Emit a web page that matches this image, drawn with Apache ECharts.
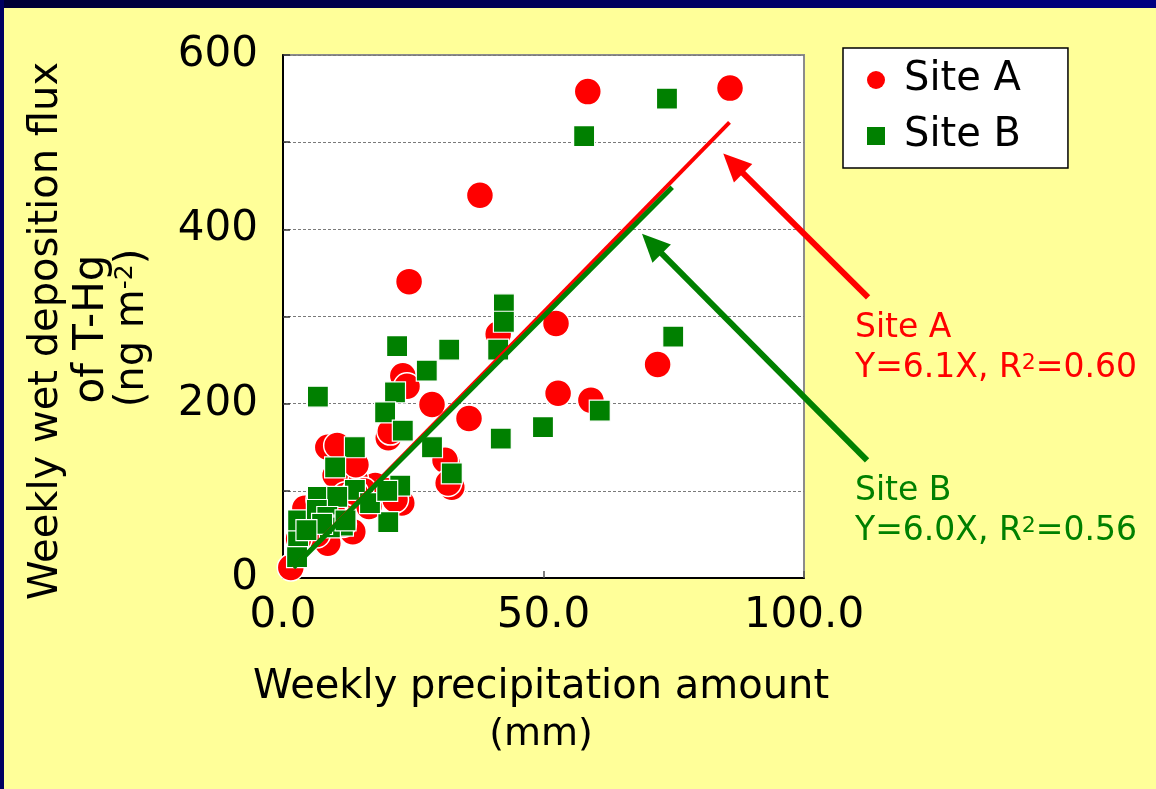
<!DOCTYPE html>
<html><head><meta charset="utf-8">
<script src="https://cdn.jsdelivr.net/npm/echarts@6/dist/echarts.min.js"></script>
<style>html,body{margin:0;padding:0;background:#FFFF99;overflow:hidden}#c{width:1156px;height:789px}</style>
</head><body><div id="c"></div>
<script>
// ---- data ----
const siteA_x = [1.5, 58.5, 85.8, 37.8, 24.2, 52.4, 41.3, 52.8, 59.1, 71.9, 28.6, 35.7, 23.0, 23.8, 20.2, 20.6, 8.6, 10.4, 32.4, 31.5, 31.1, 31.7, 22.8, 17.7, 13.8, 13.4, 8.6, 5.6, 4.2, 5.8, 10.0, 12.0, 6.5, 3.0, 15.5, 9.5, 11.5, 20.0, 7.0, 14.0, 21.5, 13.8, 16.5];
const siteA_y = [12, 558, 562, 439, 340, 292, 280, 212, 204, 245, 199, 183, 232, 220, 161, 168, 150, 152, 104, 132, 135, 109, 86, 106, 114, 53, 40, 70, 80, 52, 118, 95, 50, 45, 100, 75, 62, 100, 90, 130, 90, 98, 82];
const siteB_x = [6.7, 73.7, 57.8, 74.9, 60.8, 49.9, 41.8, 42.4, 42.4, 41.3, 31.9, 27.6, 21.9, 21.5, 19.6, 23.0, 28.6, 32.4, 13.8, 10.0, 13.8, 22.5, 20.2, 6.7, 10.4, 10.0, 2.9, 2.9, 2.7, 16.7, 6.5, 8.5, 11.5, 20.0, 9.0, 12.0, 7.5, 4.5];
const siteB_y = [208, 550, 507, 277, 192, 173, 160, 314, 294, 262, 262, 238, 266, 213, 190, 169, 150, 120, 150, 127, 101, 106, 64, 93, 93, 63, 43, 66, 24, 86, 78, 70, 60, 100, 58, 66, 62, 55];
const fitA_slope = 6.1, fitA_xRange = [2.0, 85.7];
const fitB_slope = 6.0, fitB_xRange = [2.0, 74.7];
const xTicks = [0, 50, 100];
const yTicks = [0, 200, 400, 600];
const seriesNames = ['Site A', 'Site B'];
const annotA = ['Site A', 'Y=6.1X, R{sup|2}=0.60'];
const annotB = ['Site B', 'Y=6.0X, R{sup|2}=0.56'];
// arrows in data coordinates: [tail, tip]
const arrowA = [[112.3, 322], [84.5, 487]];
const arrowB = [[112.1, 135], [68.9, 395]];

const FONT = 'DejaVu Sans';
const RED = '#FF0000', GREEN = '#008000';
const zip = (xs, ys) => xs.map((x, i) => [x, ys[i]]);
const fit = (s, r) => r.map(x => [x, +(s * x).toFixed(2)]);

const chart = echarts.init(document.getElementById('c'), null, {renderer: 'canvas'});
const option = {
  backgroundColor: '#FFFF99',
  animation: false,
  grid: {left: 283, top: 55, width: 521, height: 523, show: true, backgroundColor: '#fff', borderColor: '#8c8c8c', borderWidth: 2},
  xAxis: {
    type: 'value', min: xTicks[0], max: xTicks[xTicks.length - 1], interval: xTicks[1] - xTicks[0],
    axisLine: {show: true, onZero: false, lineStyle: {color: '#000', width: 2}},
    axisTick: {show: true, inside: true, length: 7, lineStyle: {color: '#555', width: 1.5}},
    splitLine: {show: false},
    axisLabel: {fontFamily: FONT, fontSize: 42, color: '#000', margin: 17, formatter: v => v.toFixed(1)}
  },
  yAxis: {
    type: 'value', min: 0, max: 600, interval: 100,
    axisLine: {show: true, onZero: false, lineStyle: {color: '#000', width: 2}},
    axisTick: {show: true, inside: true, length: 7, lineStyle: {color: '#333', width: 1.5}},
    splitLine: {show: true, lineStyle: {color: '#7a7a7a', width: 1, type: [3, 2]}},
    axisLabel: {fontFamily: FONT, fontSize: 42, color: '#000', margin: 25, padding: [0, 0, 12, 0],
      formatter: v => yTicks.includes(v) ? String(v) : ''}
  },
  legend: {
    orient: 'vertical', left: 843, top: 48, backgroundColor: '#fff', borderColor: '#000', borderWidth: 1.5,
    padding: [12, 47, 12, 24], itemGap: 16, itemWidth: 18, itemHeight: 18, selectedMode: false,
    textStyle: {fontFamily: FONT, fontSize: 40, color: '#000', padding: [0, 0, 0, 14]},
    itemStyle: {borderWidth: 0},
    data: [{name: seriesNames[0], icon: 'circle'}, {name: seriesNames[1], icon: 'rect'}]
  },
  series: [
    {name: seriesNames[0], type: 'scatter', symbol: 'circle', symbolSize: 27, z: 2,
     itemStyle: {color: RED, borderColor: '#fff', borderWidth: 1.5, opacity: 1}, data: zip(siteA_x, siteA_y)},
    {name: seriesNames[1], type: 'scatter', symbol: 'rect', symbolSize: 21, z: 3,
     itemStyle: {color: GREEN, borderColor: '#fff', borderWidth: 1.2, opacity: 1}, data: zip(siteB_x, siteB_y)},
    {name: 'fitA', type: 'line', symbol: 'none', z: 4, silent: true, lineStyle: {color: RED, width: 4}, data: fit(fitA_slope, fitA_xRange)},
    {name: 'fitB', type: 'line', symbol: 'none', z: 5, silent: true, lineStyle: {color: GREEN, width: 5}, data: fit(fitB_slope, fitB_xRange)}
  ]
};
chart.setOption(option);

function arrowEls(pair, color) {
  const tail = chart.convertToPixel({gridIndex: 0}, pair[0]);
  const tip = chart.convertToPixel({gridIndex: 0}, pair[1]);
  const dx = tip[0] - tail[0], dy = tip[1] - tail[1], len = Math.hypot(dx, dy);
  const ux = dx / len, uy = dy / len, px = -uy, py = ux;
  const hl = 28, hw = 13;
  const bx = tip[0] - ux * hl, by = tip[1] - uy * hl;
  return [
    {type: 'line', z: 100, shape: {x1: tail[0], y1: tail[1], x2: bx + ux * 3, y2: by + uy * 3}, style: {stroke: color, lineWidth: 6}},
    {type: 'polygon', z: 100, shape: {points: [[tip[0], tip[1]], [bx + px * hw, by + py * hw], [bx - px * hw, by - py * hw]]}, style: {fill: color}}
  ];
}
function annot(lines, color, y0) {
  return lines.map((t, i) => ({type: 'text', z: 100, left: 855, top: y0 + i * 40,
    style: {text: t, fill: color, fontFamily: FONT, fontSize: 33,
      rich: {sup: {fontSize: 22, verticalAlign: 'top', fontFamily: FONT, fill: color}}}}));
}
const graphic = [
  {type: 'rect', z: 200, shape: {x: 0, y: 0, width: 1156, height: 8},
   style: {fill: new echarts.graphic.LinearGradient(0, 0, 1, 0, [{offset: 0, color: '#000035'}, {offset: 1, color: '#000080'}])}},
  {type: 'rect', z: 200, shape: {x: 0, y: 0, width: 4, height: 789}, style: {fill: '#000060'}},
  // axis titles
  {type: 'text', z: 100, x: 47, y: 331, rotation: Math.PI / 2,
   style: {text: 'Weekly wet deposition flux', fontFamily: FONT, fontSize: 40, fill: '#000', align: 'center', verticalAlign: 'middle'}},
  {type: 'text', z: 100, x: 92, y: 329, rotation: Math.PI / 2,
   style: {text: 'of T-Hg', fontFamily: FONT, fontSize: 42, fill: '#000', align: 'center', verticalAlign: 'middle'}},
  {type: 'text', z: 100, x: 133, y: 328, rotation: Math.PI / 2,
   style: {text: '(ng m{sup|-2})', fontFamily: FONT, fontSize: 40, fill: '#000', align: 'center', verticalAlign: 'middle',
     rich: {sup: {fontSize: 25, verticalAlign: 'top', fontFamily: FONT, fill: '#000'}}}},
  {type: 'text', z: 100, x: 541, y: 688,
   style: {text: 'Weekly precipitation amount', fontFamily: FONT, fontSize: 40, fill: '#000', align: 'center', verticalAlign: 'middle'}},
  {type: 'text', z: 100, x: 541, y: 735,
   style: {text: '(mm)', fontFamily: FONT, fontSize: 38, fill: '#000', align: 'center', verticalAlign: 'middle'}},
  ...arrowEls(arrowA, RED),
  ...arrowEls(arrowB, GREEN),
  ...annot(annotA, RED, 312),
  ...annot(annotB, GREEN, 475)
];
chart.setOption({graphic: graphic});
</script></body></html>
